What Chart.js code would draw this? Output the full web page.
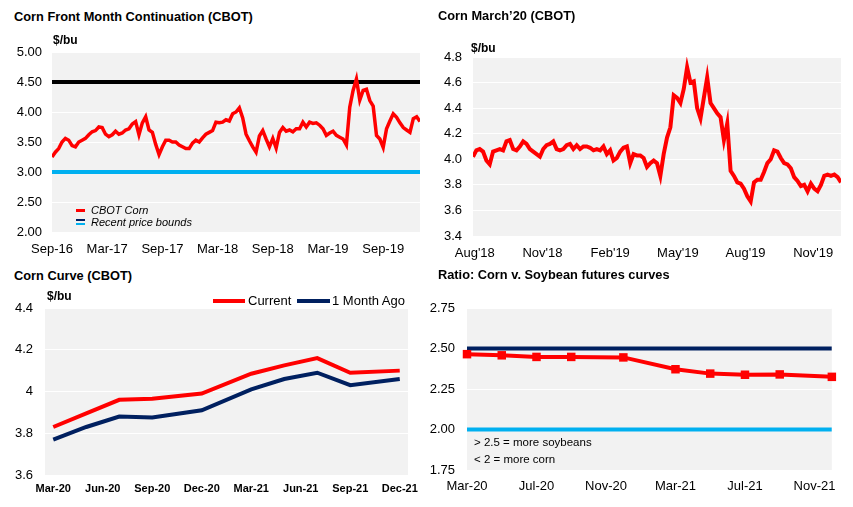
<!DOCTYPE html>
<html><head><meta charset="utf-8">
<script src="https://cdn.jsdelivr.net/npm/chart.js@4.4.1/dist/chart.umd.min.js"></script>
<style>
html,body{margin:0;padding:0;background:#fff;}
body{width:853px;height:507px;position:relative;overflow:hidden;font-family:"Liberation Sans",Arial,sans-serif;color:#000;}
canvas{position:absolute;}
.tx{position:absolute;white-space:nowrap;line-height:1;}
.b{font-weight:bold;}
.mk{position:absolute;}
</style></head>
<body>
<canvas id="c1" width="430" height="234" style="left:0;top:30px"></canvas>
<canvas id="c2" width="423" height="231" style="left:428px;top:35px"></canvas>
<canvas id="c3" width="428" height="214" style="left:0;top:286px"></canvas>
<canvas id="c4" width="420" height="211" style="left:425px;top:286px"></canvas>
<div id="overlay"></div>
<script>
// ---------------- DATA ----------------
const p1Title = 'Corn Front Month Continuation (CBOT)';
const p1Unit = '$/bu';
const p1Dates = ['2016-09-01', '2020-01-01'];
const p1Ticks = ['Sep-16','Mar-17','Sep-17','Mar-18','Sep-18','Mar-19','Sep-19'];
const p1Legend = ['CBOT Corn', 'Recent price bounds'];
const p1Bounds = [4.5, 3.0];
const p1Corn = [
  3.25,3.33,3.39,3.50,3.56,3.53,3.44,3.42,3.50,3.53,3.56,3.62,3.67,3.69,3.75,3.74,3.63,3.59,3.62,3.68,3.63,3.65,3.70,3.72,3.80,3.84,3.62,3.82,3.92,3.70,3.66,3.46,3.29,3.42,3.53,3.53,3.50,
  3.50,3.45,3.42,3.39,3.39,3.48,3.53,3.50,3.57,3.63,3.66,3.69,3.83,3.82,3.83,3.87,3.85,3.97,4.00,4.07,3.90,3.63,3.52,3.42,3.33,3.60,3.69,3.55,3.42,3.56,3.40,3.66,3.74,3.68,3.70,3.67,3.72,
  3.72,3.83,3.75,3.83,3.81,3.82,3.78,3.72,3.61,3.65,3.68,3.61,3.58,3.55,3.45,4.08,4.36,4.55,4.20,4.36,4.38,4.19,4.10,3.61,3.55,3.41,3.72,3.85,3.97,3.91,3.82,3.74,3.70,3.66,3.89,3.92,3.84
];

const p2Title = "Corn March\u201920 (CBOT)";
const p2Unit = '$/bu';
const p2Dates = ['2018-07-29', '2019-12-08'];
const p2Ticks = ["Aug'18","Nov'18","Feb'19","May'19","Aug'19","Nov'19"];
const p2Corn = [
  4.02,4.07,4.08,4.06,3.99,3.96,4.06,4.07,4.08,4.07,4.14,4.15,4.08,4.07,4.10,4.14,4.12,4.08,4.06,4.04,4.02,4.08,4.11,4.12,4.14,4.08,4.07,4.08,4.11,4.12,4.08,4.11,4.08,4.10,4.10,4.09,4.07,
  4.08,4.07,4.10,4.04,4.07,3.99,4.01,4.06,4.09,4.10,3.97,4.04,4.03,4.03,4.01,3.94,3.97,3.99,3.97,3.87,4.04,4.17,4.25,4.50,4.48,4.44,4.55,4.72,4.60,4.61,4.40,4.32,4.48,4.64,4.44,4.40,4.36,
  4.33,4.15,4.28,3.91,3.87,3.82,3.81,3.77,3.71,3.67,3.82,3.84,3.84,3.90,3.97,4.00,4.07,4.06,4.01,3.97,3.96,3.93,3.86,3.83,3.79,3.80,3.75,3.81,3.77,3.75,3.80,3.87,3.88,3.87,3.88,3.86,3.82
];

const p3Title = 'Corn Curve (CBOT)';
const p3Unit = '$/bu';
const contracts = ['Mar-20','May-20','Jul-20','Sep-20','Dec-20','Mar-21','May-21','Jul-21','Sep-21','Dec-21'];
const p3Ticks = ['Mar-20','Jun-20','Sep-20','Dec-20','Mar-21','Jun-21','Sep-21','Dec-21'];
const p3Names = ['Current', '1 Month Ago'];
const p3Current = [3.83,3.895,3.96,3.965,3.99,4.085,4.125,4.16,4.09,4.10];
const p3MonthAgo = [3.77,3.83,3.88,3.875,3.91,4.01,4.06,4.09,4.03,4.06];

const p4Title = 'Ratio: Corn v. Soybean futures curves';
const p4Ticks = ['Mar-20','Jul-20','Nov-20','Mar-21','Jul-21','Nov-21'];
const p4Ratio = [2.465,2.458,2.448,2.448,2.445,2.372,2.345,2.338,2.340,2.325];
const p4Bounds = [2.5, 2.0];
const p4Notes = ['> 2.5 = more soybeans', '< 2 = more corn'];

// ---------------- HELPERS ----------------
const MON = ['Jan','Feb','Mar','Apr','May','Jun','Jul','Aug','Sep','Oct','Nov','Dec'];
function monthOf(label){ const m = MON.indexOf(label.slice(0,3)); const y = 2000 + parseInt(label.slice(4),10); return y*12 + m; }
function monthOfDate(s){ const [y,m,d] = s.split('-').map(Number); return y*12 + (m-1) + (d-1)/30.4; }
function spread(vals, r){ const n = vals.length; return vals.map((v,i)=>({x: r[0] + (r[1]-r[0])*i/(n-1), y: v})); }

const FONT = '"Liberation Sans", Arial, sans-serif';
Chart.defaults.font.family = FONT;
Chart.defaults.color = '#000';

const plotBg = {id:'plotBg', beforeDraw(chart){ const {ctx, chartArea:a} = chart; ctx.save(); ctx.fillStyle = '#f2f2f2'; ctx.fillRect(a.left, a.top, a.right-a.left, a.bottom-a.top); ctx.restore(); }};

function makeChart(id, o){
  return new Chart(document.getElementById(id), {
    type:'line',
    data:{datasets:o.datasets},
    options:{
      responsive:false, animation:false, devicePixelRatio:1,
      layout:{padding:o.pad},
      plugins:{legend:{display:false}, tooltip:{enabled:false}},
      elements:{line:{tension:0}},
      scales:{
        x:{type:'linear', min:o.xr[0], max:o.xr[1],
           afterBuildTicks(s){ s.ticks = o.xticks.map(v=>({value:v})); },
           ticks:{autoSkip:false, maxRotation:0, minRotation:0, padding:o.xpad, font:o.xfont, color:'#000', callback:(v,i)=>o.xlabels[i]},
           grid:{display:false, drawTicks:false}, border:{display:false},
           afterFit(s){ s.height = o.xh; }},
        y:{type:'linear', min:o.yr[0], max:o.yr[1],
           ticks:{stepSize:o.ystep, padding:o.ypad, font:o.yfont, color:'#000', callback:o.yfmt},
           grid:{color:'#ffffff', lineWidth:1, drawTicks:false}, border:{display:false},
           afterFit(s){ s.width = o.yw; }}
      }
    },
    plugins:[plotBg]
  });
}

// ---------------- PANEL 1 ----------------
const r1 = p1Dates.map(monthOfDate);
const base1 = r1[0];
const x1 = [0, r1[1]-base1];
makeChart('c1', {
  pad:{top:22,right:10,bottom:4,left:0}, xh:28, yw:52,
  xr:x1, xticks:p1Ticks.map(t=>monthOf(t)-base1), xlabels:p1Ticks, xpad:10, xfont:{size:13},
  yr:[2,5], ystep:0.5, ypad:10, yfont:{size:13}, yfmt:v=>v.toFixed(2),
  datasets:[
    {data:spread(p1Corn, x1), borderColor:'#ff0000', borderWidth:3.5, pointRadius:0},
    {data:[{x:x1[0],y:p1Bounds[0]},{x:x1[1],y:p1Bounds[0]}], borderColor:'#000000', borderWidth:4, pointRadius:0},
    {data:[{x:x1[0],y:p1Bounds[1]},{x:x1[1],y:p1Bounds[1]}], borderColor:'#00b0f0', borderWidth:4, pointRadius:0}
  ]
});

// ---------------- PANEL 2 ----------------
const r2 = p2Dates.map(monthOfDate);
const base2 = monthOf(p2Ticks[0]);
const x2 = [r2[0]-base2, r2[1]-base2];
makeChart('c2', {
  pad:{top:22,right:10,bottom:2,left:0}, xh:28, yw:45,
  xr:x2, xticks:p2Ticks.map(t=>monthOf(t)-base2), xlabels:p2Ticks, xpad:10, xfont:{size:13},
  yr:[3.4,4.8], ystep:0.2, ypad:11, yfont:{size:13}, yfmt:v=>v.toFixed(1),
  datasets:[
    {data:spread(p2Corn, x2), borderColor:'#ff0000', borderWidth:4, pointRadius:0}
  ]
});

// ---------------- PANEL 3 ----------------
const base3 = monthOf(contracts[0]);
const cx = contracts.map(c=>monthOf(c)-base3);
makeChart('c3', {
  pad:{top:22,right:20,bottom:3,left:0}, xh:22, yw:45,
  xr:[-0.5, cx[cx.length-1]+0.5], xticks:p3Ticks.map(t=>monthOf(t)-base3), xlabels:p3Ticks, xpad:7, xfont:{size:11, weight:'bold'},
  yr:[3.6,4.4], ystep:0.2, ypad:12, yfont:{size:13}, yfmt:v=>String(+v.toFixed(1)),
  datasets:[
    {label:p3Names[0], data:p3Current.map((v,i)=>({x:cx[i],y:v})), borderColor:'#ff0000', borderWidth:4, pointRadius:0},
    {label:p3Names[1], data:p3MonthAgo.map((v,i)=>({x:cx[i],y:v})), borderColor:'#002060', borderWidth:4, pointRadius:0}
  ]
});

// ---------------- PANEL 4 ----------------
const x4 = [cx[0], cx[cx.length-1]];
makeChart('c4', {
  pad:{top:22,right:12,bottom:3,left:0}, xh:24, yw:42,
  xr:x4, xticks:p4Ticks.map(t=>monthOf(t)-base3), xlabels:p4Ticks, xpad:9, xfont:{size:13},
  yr:[1.75,2.75], ystep:0.25, ypad:12, yfont:{size:13}, yfmt:v=>v.toFixed(2),
  datasets:[
    {data:p4Ratio.map((v,i)=>({x:cx[i],y:v})), borderColor:'#ff0000', borderWidth:4, pointRadius:6, pointStyle:'rect', pointBackgroundColor:'#ff0000', pointBorderColor:'#ff0000', pointBorderWidth:0, clip:false},
    {data:[{x:x4[0],y:p4Bounds[0]},{x:x4[1],y:p4Bounds[0]}], borderColor:'#002060', borderWidth:4, pointRadius:0},
    {data:[{x:x4[0],y:p4Bounds[1]},{x:x4[1],y:p4Bounds[1]}], borderColor:'#00b0f0', borderWidth:4, pointRadius:0}
  ]
});

// ---------------- TEXT OVERLAYS ----------------
const ov = document.getElementById('overlay');
function txt(s, left, baseline, size, cls, extra){
  const d = document.createElement('div');
  d.className = 'tx ' + (cls||'');
  d.textContent = s;
  d.style.left = left + 'px';
  d.style.top = (baseline - 0.8465*size) + 'px';
  d.style.fontSize = size + 'px';
  if (extra) Object.assign(d.style, extra);
  ov.appendChild(d);
}
function mark(left, top, w, h, color){
  const d = document.createElement('div'); d.className='mk';
  Object.assign(d.style, {left:left+'px', top:top+'px', width:w+'px', height:h+'px', background:color});
  ov.appendChild(d);
}
txt(p1Title, 14, 21.7, 12.8, 'b');
txt(p1Unit, 53, 44.5, 12, 'b');
txt(p2Title, 438, 21.3, 12.8, 'b');
txt(p2Unit, 471, 52.3, 12, 'b');
txt(p3Title, 14, 281, 12.8, 'b');
txt(p3Unit, 47, 300, 12, 'b');
txt(p4Title, 438, 280, 12.8, 'b');

// panel 1 legend
mark(76, 209, 9, 3, '#ff0000');
txt(p1Legend[0], 91, 214, 11, '', {fontStyle:'italic'});
mark(76, 218.5, 9, 2.5, '#002060');
mark(76, 222.5, 9, 2.5, '#00b0f0');
txt(p1Legend[1], 91, 226.2, 11, '', {fontStyle:'italic'});

// panel 3 legend
mark(213, 299, 32, 4, '#ff0000');
txt(p3Names[0], 248, 305.5, 13);
mark(297, 299, 33, 4, '#002060');
txt(p3Names[1], 332, 305.5, 13);

// panel 4 notes
txt(p4Notes[0], 474, 446.7, 11.5);
txt(p4Notes[1], 474, 463.3, 11.5);
</script>
</body></html>
